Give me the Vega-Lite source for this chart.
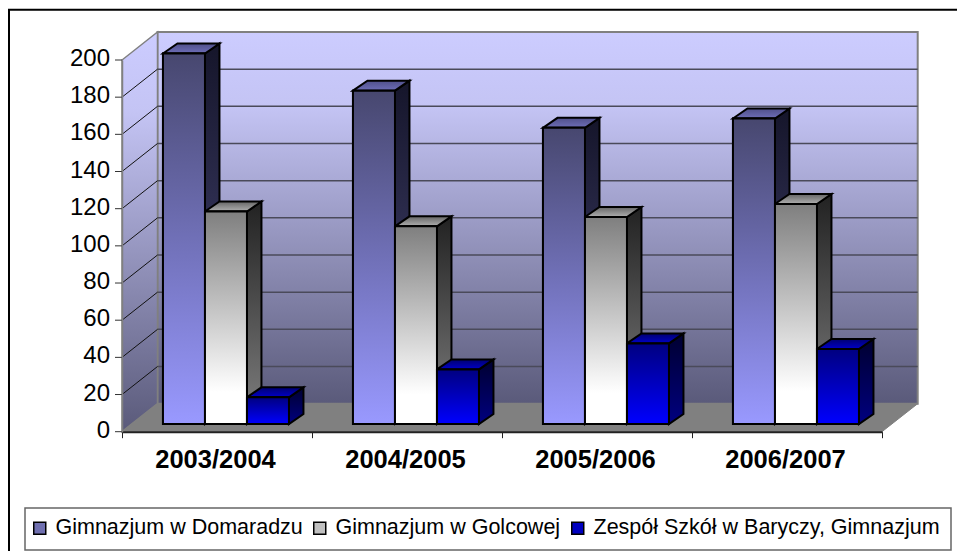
{
"$schema":"https://vega.github.io/schema/vega-lite/v6.json",
"width":760,"height":371.7,
"autosize":{"type":"none"},
"padding":{"left":122,"top":60,"right":75,"bottom":119.3},
"background":"white",
"config":{"view":{"stroke":null},"font":"Liberation Sans"},
"datasets":{
"bars":[
{"year":"2003/2004","school":"Gimnazjum w  Domaradzu","value":200},
{"year":"2003/2004","school":"Gimnazjum w  Golcowej","value":115},
{"year":"2003/2004","school":"Zespół Szkół w  Baryczy, Gimnazjum","value":15},
{"year":"2004/2005","school":"Gimnazjum w  Domaradzu","value":180},
{"year":"2004/2005","school":"Gimnazjum w  Golcowej","value":107},
{"year":"2004/2005","school":"Zespół Szkół w  Baryczy, Gimnazjum","value":30},
{"year":"2005/2006","school":"Gimnazjum w  Domaradzu","value":160},
{"year":"2005/2006","school":"Gimnazjum w  Golcowej","value":112},
{"year":"2005/2006","school":"Zespół Szkół w  Baryczy, Gimnazjum","value":44},
{"year":"2006/2007","school":"Gimnazjum w  Domaradzu","value":165},
{"year":"2006/2007","school":"Gimnazjum w  Golcowej","value":119},
{"year":"2006/2007","school":"Zespół Szkół w  Baryczy, Gimnazjum","value":41}
],
"ticks":[{"t":20},{"t":40},{"t":60},{"t":80},{"t":100},{"t":120},{"t":140},{"t":160},{"t":180}],
"labels":[{"t":0},{"t":20},{"t":40},{"t":60},{"t":80},{"t":100},{"t":120},{"t":140},{"t":160},{"t":180},{"t":200}],
"anchor":[{"year":"2003/2004","t":0}]
},
"data":{"name":"bars"},
"layer":[
{"data":{"name":"anchor"},
 "mark":{"type":"point","filled":true,"opacity":1,"size":4,"shape":"M-59.5,-28L-59.5,-399.7L700.7,-399.7L700.7,-28Z","stroke":"#808080","strokeWidth":2,
  "fill":{"x1":0,"y1":0,"x2":0,"y2":1,"gradient":"linear","stops":[{"offset":0,"color":"#ccccff"},{"offset":0.2,"color":"#c4c4f4"},{"offset":1,"color":"#5a5a7a"}]}},
 "encoding":{
  "x":{"field":"year","type":"nominal","scale":{"type":"band","domain":["2003/2004","2004/2005","2005/2006","2006/2007"],"paddingInner":0,"paddingOuter":0},
   "axis":{"title":null,"labelAngle":0,"labelAlign":"center","labelBaseline":"top","labelFontSize":25.5,"labelFontWeight":"bold","labelColor":"black","tickBand":"extent","tickSize":6,"tickColor":"#222222","tickWidth":1,"domainColor":"#222222","domainWidth":2,"labelPadding":10,"labelOffset":-2,"zindex":1}},
  "y":{"field":"t","type":"quantitative","scale":{"domain":[0,200],"nice":false},
   "axis":{"title":null,"grid":false,"labels":false,"ticks":false,"domainColor":"#808080","domainWidth":1.5,"zindex":1}}}},
{"data":{"name":"anchor"},
 "mark":{"type":"point","filled":true,"opacity":1,"size":4,"shape":"M-95,0L-95,-371.7L-59.5,-399.7L-59.5,-28Z","stroke":"#808080","strokeWidth":1.5,
  "fill":{"x1":0,"y1":0,"x2":0,"y2":1,"gradient":"linear","stops":[{"offset":0,"color":"#ccccff"},{"offset":0.2,"color":"#c4c4f4"},{"offset":1,"color":"#5a5a7a"}]}},
 "encoding":{"x":{"field":"year","type":"nominal"},"y":{"field":"t","type":"quantitative"}}},
{"data":{"name":"ticks"},
 "mark":{"type":"point","filled":false,"opacity":1,"size":4,"shape":"M-59.5,-28L700.7,-28","stroke":"#4a4a5a","strokeWidth":1.5},
 "encoding":{"x":{"datum":"2003/2004","type":"nominal"},"y":{"field":"t","type":"quantitative"}}},
{"data":{"name":"ticks"},
 "mark":{"type":"point","filled":false,"opacity":1,"size":4,"shape":"M-95,0L-59.5,-28","stroke":"#111111","strokeWidth":1},
 "encoding":{"x":{"datum":"2003/2004","type":"nominal"},"y":{"field":"t","type":"quantitative"}}},
{"data":{"name":"anchor"},
 "mark":{"type":"point","filled":true,"opacity":1,"size":4,"shape":"M-95,0L-59.5,-28L700.7,-28L665,0Z","fill":"#808080","stroke":"#808080","strokeWidth":1},
 "encoding":{"x":{"field":"year","type":"nominal"},"y":{"field":"t","type":"quantitative"}}},
{"data":{"name":"labels"},
 "mark":{"type":"point","filled":false,"opacity":1,"size":4,"shape":"M-102,0L-95,0","stroke":"#333333","strokeWidth":1},
 "encoding":{"x":{"datum":"2003/2004","type":"nominal"},"y":{"field":"t","type":"quantitative"}}},
{"data":{"name":"labels"},
 "mark":{"type":"text","align":"right","baseline":"middle","fontSize":24,"color":"black","dx":-107,"dy":-1},
 "encoding":{"x":{"datum":"2003/2004","type":"nominal"},"y":{"field":"t","type":"quantitative"},"text":{"field":"t","type":"quantitative"}}},
{"mark":{"type":"point","filled":true,"opacity":1,"size":4,"stroke":"black","strokeWidth":2,"strokeJoin":"miter","yOffset":-6.5},
 "encoding":{
  "x":{"field":"year","type":"nominal"},
  "xOffset":{"field":"school","type":"nominal","scale":{"paddingInner":0,"paddingOuter":0.762,"align":0.64}},
  "y":{"field":"value","type":"quantitative","stack":null},
  "shape":{"field":"value","type":"nominal","legend":null,"scale":{"domain":[200,115,15,180,107,30,160,112,44,165,119,41],"range":[
   "M21,0L35.5,-10L35.5,360.5L21,370.5Z","M21,0L35.5,-10L35.5,202.5L21,212.5Z","M21,0L35.5,-10L35.5,16.7L21,26.7Z",
   "M21,0L35.5,-10L35.5,323.3L21,333.3Z","M21,0L35.5,-10L35.5,187.7L21,197.7Z","M21,0L35.5,-10L35.5,44.6L21,54.6Z",
   "M21,0L35.5,-10L35.5,286.2L21,296.2Z","M21,0L35.5,-10L35.5,197L21,207Z","M21,0L35.5,-10L35.5,70.6L21,80.6Z",
   "M21,0L35.5,-10L35.5,295.5L21,305.5Z","M21,0L35.5,-10L35.5,210L21,220Z","M21,0L35.5,-10L35.5,65L21,75Z"]}},
  "fill":{"condition":[
   {"test":"datum.school==='Gimnazjum w  Domaradzu'","value":{"x1":0,"y1":0,"x2":0,"y2":1,"gradient":"linear","stops":[{"offset":0,"color":"#15152a"},{"offset":1,"color":"#4d4d80"}]}},
   {"test":"datum.school==='Gimnazjum w  Golcowej'","value":{"x1":0,"y1":0,"x2":0,"y2":1,"gradient":"linear","stops":[{"offset":0,"color":"#222222"},{"offset":1,"color":"#808080"}]}}],
   "value":{"x1":0,"y1":0,"x2":0,"y2":1,"gradient":"linear","stops":[{"offset":0,"color":"#000030"},{"offset":1,"color":"#000080"}]}}
 }},
{"mark":{"type":"point","filled":true,"opacity":1,"size":4,"shape":"M-21,0L-6.5,-10L35.5,-10L21,0Z","stroke":"black","strokeWidth":2,"strokeJoin":"miter","yOffset":-6.5},
 "encoding":{
  "x":{"field":"year","type":"nominal"},
  "xOffset":{"field":"school","type":"nominal"},
  "y":{"field":"value","type":"quantitative","stack":null},
  "fill":{"condition":[
   {"test":"datum.school==='Gimnazjum w  Domaradzu'","value":{"x1":0,"y1":0,"x2":0,"y2":1,"gradient":"linear","stops":[{"offset":0,"color":"#50508a"},{"offset":1,"color":"#6e6eb8"}]}},
   {"test":"datum.school==='Gimnazjum w  Golcowej'","value":{"x1":0,"y1":0,"x2":0,"y2":1,"gradient":"linear","stops":[{"offset":0,"color":"#666666"},{"offset":1,"color":"#b0b0b0"}]}}],
   "value":{"x1":0,"y1":0,"x2":0,"y2":1,"gradient":"linear","stops":[{"offset":0,"color":"#000070"},{"offset":1,"color":"#0000c8"}]}}
 }},
{"data":{"name":"anchor"},
 "mark":{"type":"point","filled":false,"opacity":1,"size":4,"shape":"M-192,76.3L734,76.3L734,118.3L-192,118.3Z","stroke":"#666666","strokeWidth":1.5},
 "encoding":{"x":{"field":"year","type":"nominal"},"y":{"field":"t","type":"quantitative"}}},
{"mark":{"type":"bar","stroke":"black","strokeWidth":2,"yOffset":-6.5,"y2Offset":-7.7},
 "encoding":{
  "x":{"field":"year","type":"nominal"},
  "xOffset":{"field":"school","type":"nominal"},
  "y":{"field":"value","type":"quantitative","stack":null},
  "y2":{"datum":0},
  "fill":{"field":"school","type":"nominal","scale":{"domain":["Gimnazjum w  Domaradzu","Gimnazjum w  Golcowej","Zespół Szkół w  Baryczy, Gimnazjum"],"range":["#7070b0","#c0c0c0","#0000c0"]},
   "legend":{"title":null,"orient":"none","legendX":-93,"legendY":457,"direction":"horizontal","columns":3,"symbolType":"square","symbolSize":144,"labelFontSize":21.5,"labelColor":"black","labelLimit":0,"padding":0,"columnPadding":-3,"labelOffset":5,
    "encoding":{"symbols":{
      "stroke":{"value":"black"},"strokeWidth":{"value":1.5},
      "fill":{"condition":[
       {"test":"datum.value==='Gimnazjum w  Domaradzu'","value":{"x1":0,"y1":0,"x2":0,"y2":1,"gradient":"linear","stops":[{"offset":0,"color":"#47476f"},{"offset":1,"color":"#9999ff"}]}},
       {"test":"datum.value==='Gimnazjum w  Golcowej'","value":{"x1":0,"y1":0,"x2":0,"y2":1,"gradient":"linear","stops":[{"offset":0,"color":"#7f7f7f"},{"offset":1,"color":"#ffffff"}]}}],
       "value":{"x1":0,"y1":0,"x2":0,"y2":1,"gradient":"linear","stops":[{"offset":0,"color":"#000080"},{"offset":1,"color":"#0000ff"}]}}}}}}
 }},
{"mark":{"type":"bar","stroke":"black","strokeWidth":2,"yOffset":-6.5,"y2Offset":-7.7},
 "encoding":{
  "x":{"field":"year","type":"nominal"},
  "xOffset":{"field":"school","type":"nominal"},
  "y":{"field":"value","type":"quantitative","stack":null},
  "y2":{"datum":0},
  "fill":{"condition":[
   {"test":"datum.school==='Gimnazjum w  Domaradzu'","value":{"x1":0,"y1":0,"x2":0,"y2":1,"gradient":"linear","stops":[{"offset":0,"color":"#47476f"},{"offset":1,"color":"#9999ff"}]}},
   {"test":"datum.school==='Gimnazjum w  Golcowej'","value":{"x1":0,"y1":0,"x2":0,"y2":1,"gradient":"linear","stops":[{"offset":0,"color":"#7f7f7f"},{"offset":0.85,"color":"#ffffff"},{"offset":1,"color":"#ffffff"}]}}],
   "value":{"x1":0,"y1":0,"x2":0,"y2":1,"gradient":"linear","stops":[{"offset":0,"color":"#000080"},{"offset":1,"color":"#0000ff"}]}}
 }},
{"data":{"name":"anchor"},
 "mark":{"type":"point","filled":false,"opacity":1,"size":4,"shape":"M-208,430L-208,-422L800,-422","stroke":"black","strokeWidth":2},
 "encoding":{"x":{"field":"year","type":"nominal"},"y":{"field":"t","type":"quantitative"}}}
]
}
